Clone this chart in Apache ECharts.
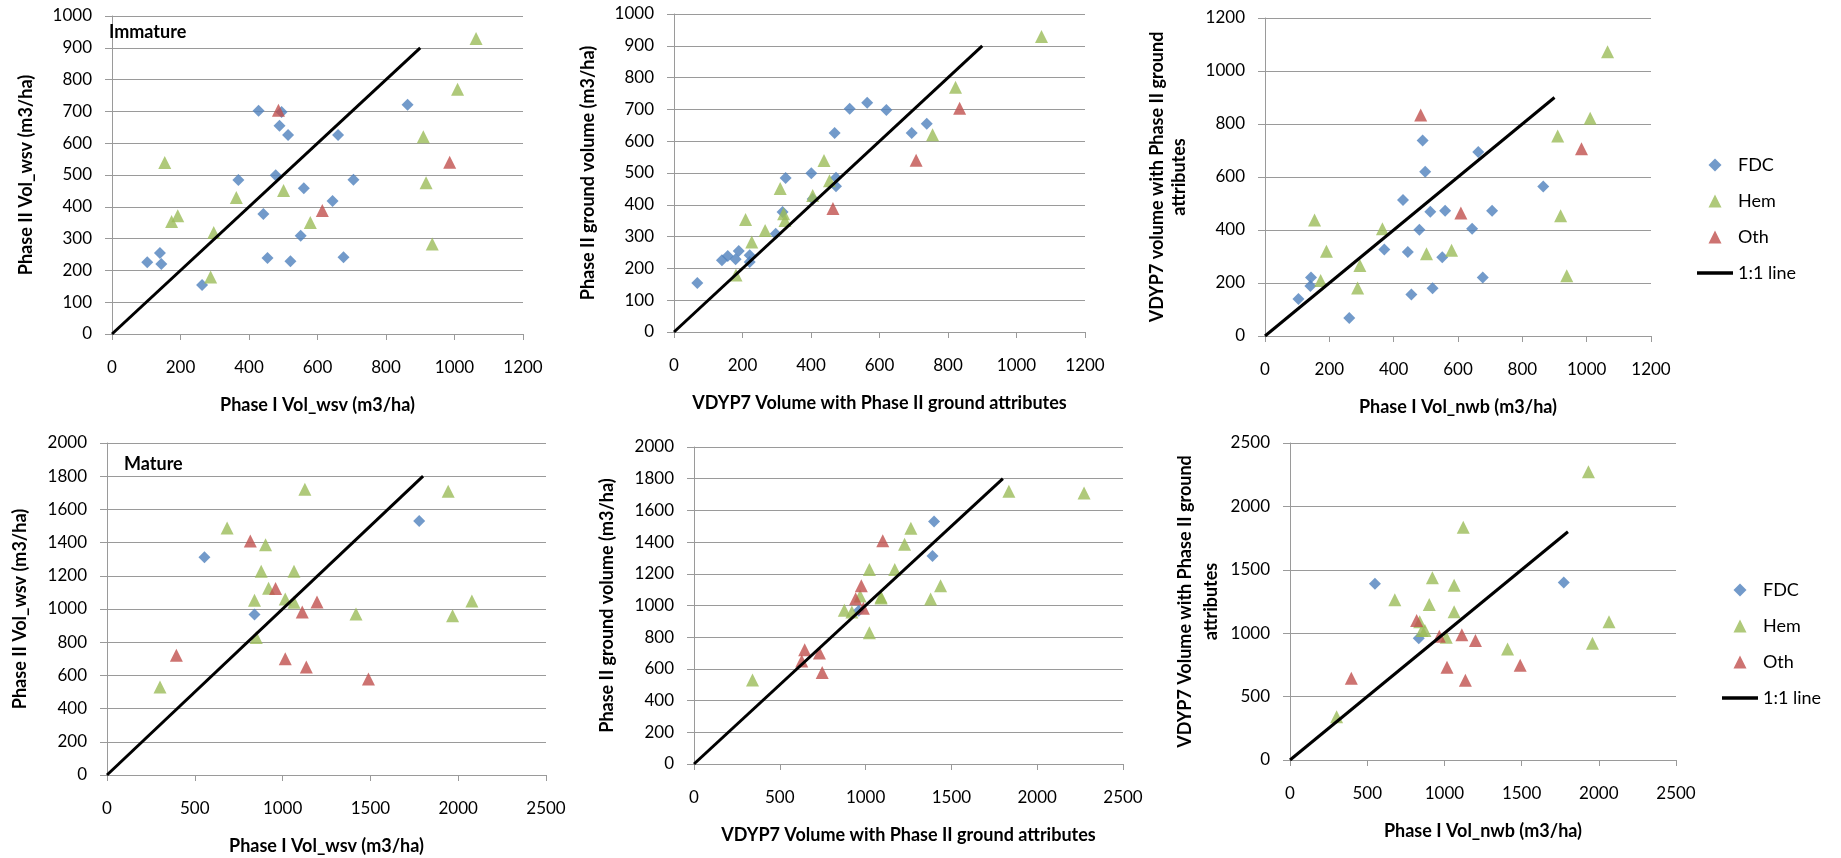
<!DOCTYPE html>
<html>
<head>
<meta charset="utf-8">
<script src="https://cdn.jsdelivr.net/npm/echarts@6/dist/echarts.min.js"></script>
<style>
  html, body { margin: 0; padding: 0; background: #fff; }
  #chart { width: 1841px; height: 858px; }
</style>
</head>
<body>
<div id="chart"></div>
<script>
// ---- immature stands ----
const immFdcWsv = [103, 140, 144, 263, 369, 428, 442, 454, 478, 489, 495, 514, 521, 551, 560, 644, 660, 676, 705, 863];
const immFdcNwb = [104, 141, 143, 262, 371, 429, 444, 455, 480, 490, 498, 514, 521, 551, 560, 644, 663, 677, 706, 865];
const immFdcP2 = [226, 255, 220, 154, 484, 702, 377, 239, 499, 655, 698, 626, 229, 309, 458, 418, 626, 241, 485, 721];
const immFdcVdyp = [140, 189, 221, 68, 326, 513, 317, 157, 401, 738, 620, 469, 180, 297, 473, 405, 694, 221, 473, 564];

const immHemWsv = [1063, 1009, 909, 917, 935, 154, 192, 174, 297, 363, 501, 579, 288];
const immHemNwb = [1065, 1011, 910, 919, 938, 154, 191, 173, 295, 365, 502, 580, 288];
const immHemP2 = [929, 770, 620, 476, 283, 539, 372, 354, 319, 429, 451, 351, 179];
const immHemVdyp = [1073, 822, 755, 454, 227, 438, 320, 209, 266, 405, 310, 324, 181];

const immOthWsv = [486, 614, 986];
const immOthNwb = [484, 609, 984];
const immOthP2 = [704, 388, 540];
const immOthVdyp = [834, 464, 707];

// ---- mature stands ----
const matFdcWsv = [555, 840, 1778];
const matFdcNwb = [550, 834, 1773];
const matFdcP2 = [1312, 967, 1530];
const matFdcVdyp = [1390, 960, 1399];

const matHemWsv = [302, 684, 903, 878, 920, 840, 850, 1015, 1065, 1065, 1127, 1418, 1943, 1968, 2078];
const matHemNwb = [302, 679, 902, 874, 922, 840, 855, 1012, 1063, 1063, 1122, 1409, 1933, 1959, 2066];
const matHemP2 = [530, 1488, 1387, 1227, 1125, 1053, 828, 1060, 1227, 1041, 1721, 970, 1709, 959, 1048];
const matHemVdyp = [341, 1264, 1227, 1022, 1437, 1090, 1022, 968, 1170, 1379, 1835, 876, 2273, 920, 1090];

const matOthWsv = [395, 816, 960, 1112, 1196, 1015, 1135, 1489];
const matOthNwb = [397, 820, 967, 1113, 1201, 1017, 1136, 1491];
const matOthP2 = [721, 1409, 1124, 982, 1042, 700, 650, 578];
const matOthVdyp = [645, 1100, 975, 987, 942, 731, 628, 747];

// 1:1 reference lines
const immLine = [[0, 0], [900, 900]];
const matLine = [[0, 0], [1800, 1800]];

const font = 'Lato';
const gridColor = '#9a9a9a';
const colors = { FDC: '#4F81BD', Hem: '#9BBB59', Oth: '#C0504D' };

// legend icons (small, fixed aspect so they are not stretched)
const iconDiamond = 'path://M6,0L12,6L6,12L0,6Z';
const iconTriangle = 'path://M6.5,0L13,13L0,13Z';
const iconLine = 'path://M0,0H36V3.5H0Z';

function pairs(xs, ys) {
  return xs.map((x, i) => [x, ys[i]]);
}

const grids = [
  { left: 112, top: 16, width: 411, height: 318 },
  { left: 674, top: 14, width: 411, height: 318 },
  { left: 1265, top: 18, width: 386, height: 318 },
  { left: 107, top: 443, width: 439, height: 332 },
  { left: 694, top: 447, width: 429, height: 317 },
  { left: 1290, top: 443, width: 386, height: 317 }
].map(g => Object.assign({ containLabel: false, outerBoundsMode: 'none' }, g));

function xAxis(idx, max, step, name) {
  return {
    type: 'value', gridIndex: idx, min: 0, max: max, interval: step,
    name: name, nameLocation: 'middle', nameGap: 61,
    nameTextStyle: { fontFamily: font, fontSize: 18, fontWeight: 'bold', color: '#000', lineHeight: 20 },
    axisLine: { show: true, onZero: false, lineStyle: { color: gridColor, width: 1 } },
    axisTick: { show: true, inside: false, length: 6, lineStyle: { color: gridColor } },
    axisLabel: { margin: 24, fontFamily: font, fontSize: 17, color: '#000', lineHeight: 20, formatter: v => String(v) },
    splitLine: { show: false }
  };
}

function yAxis(idx, max, step, name, gap, lh) {
  return {
    type: 'value', gridIndex: idx, min: 0, max: max, interval: step,
    name: name, nameLocation: 'middle', nameRotate: 90, nameGap: gap,
    nameTextStyle: { fontFamily: font, fontSize: 18, fontWeight: 'bold', color: '#000', lineHeight: lh },
    axisLine: { show: true, onZero: false, lineStyle: { color: gridColor, width: 1 } },
    axisTick: { show: true, inside: false, length: 7, lineStyle: { color: gridColor } },
    axisLabel: { margin: 20, fontFamily: font, fontSize: 17, color: '#000', formatter: v => String(v) },
    splitLine: { show: true, lineStyle: { color: gridColor, width: 1 } }
  };
}

function panelSeries(idx, fdc, hem, oth, line) {
  const common = { type: 'scatter', xAxisIndex: idx, yAxisIndex: idx };
  return [
    Object.assign({ name: 'FDC', data: fdc, symbol: 'diamond', symbolSize: 12, itemStyle: { color: colors.FDC } }, common),
    Object.assign({ name: 'Hem', data: hem, symbol: 'triangle', symbolSize: 13, itemStyle: { color: colors.Hem } }, common),
    Object.assign({ name: 'Oth', data: oth, symbol: 'triangle', symbolSize: 13, itemStyle: { color: colors.Oth } }, common),
    {
      name: '1:1 line', type: 'line', xAxisIndex: idx, yAxisIndex: idx, data: line,
      symbol: 'none', lineStyle: { color: '#000', width: 3 }, itemStyle: { color: '#000' }
    }
  ];
}

function legendAt(left, top) {
  return {
    orient: 'vertical', left: left, top: top, padding: 0,
    itemWidth: 36, itemHeight: 13, itemGap: 16, selectedMode: false, symbolKeepAspect: true,
    textStyle: { fontFamily: font, fontSize: 18, color: '#000', lineHeight: 20 },
    data: [
      { name: 'FDC', icon: iconDiamond },
      { name: 'Hem', icon: iconTriangle },
      { name: 'Oth', icon: iconTriangle },
      { name: '1:1 line', icon: iconLine }
    ]
  };
}

const option = {
  animation: false,
  backgroundColor: '#fff',
  title: [
    { text: 'Immature', left: 109, top: 23, padding: 0, textStyle: { fontFamily: font, fontSize: 18, fontWeight: 'bold', color: '#000' } },
    { text: 'Mature', left: 124, top: 455, padding: 0, textStyle: { fontFamily: font, fontSize: 18, fontWeight: 'bold', color: '#000' } }
  ],
  legend: [legendAt(1697, 155), legendAt(1722, 580)],
  grid: grids,
  xAxis: [
    xAxis(0, 1200, 200, 'Phase I Vol_wsv (m3/ha)'),
    xAxis(1, 1200, 200, 'VDYP7 Volume with Phase II ground attributes'),
    xAxis(2, 1200, 200, 'Phase I Vol_nwb (m3/ha)'),
    xAxis(3, 2500, 500, 'Phase I Vol_wsv (m3/ha)'),
    xAxis(4, 2500, 500, 'VDYP7 Volume with Phase II ground attributes'),
    xAxis(5, 2500, 500, 'Phase I Vol_nwb (m3/ha)')
  ],
  yAxis: [
    yAxis(0, 1000, 100, 'Phase II Vol_wsv (m3/ha)', 76, 20),
    yAxis(1, 1000, 100, 'Phase II ground volume (m3/ha)', 76, 20),
    yAxis(2, 1200, 200, 'VDYP7 volume with Phase II ground\nattributes', 75, 22),
    yAxis(3, 2000, 200, 'Phase II Vol_wsv (m3/ha)', 77, 20),
    yAxis(4, 2000, 200, 'Phase II ground volume (m3/ha)', 77, 20),
    yAxis(5, 2500, 500, 'VDYP7 Volume with Phase II ground\nattributes', 66, 26)
  ],
  series: [].concat(
    panelSeries(0, pairs(immFdcWsv, immFdcP2), pairs(immHemWsv, immHemP2), pairs(immOthWsv, immOthP2), immLine),
    panelSeries(1, pairs(immFdcVdyp, immFdcP2), pairs(immHemVdyp, immHemP2), pairs(immOthVdyp, immOthP2), immLine),
    panelSeries(2, pairs(immFdcNwb, immFdcVdyp), pairs(immHemNwb, immHemVdyp), pairs(immOthNwb, immOthVdyp), immLine),
    panelSeries(3, pairs(matFdcWsv, matFdcP2), pairs(matHemWsv, matHemP2), pairs(matOthWsv, matOthP2), matLine),
    panelSeries(4, pairs(matFdcVdyp, matFdcP2), pairs(matHemVdyp, matHemP2), pairs(matOthVdyp, matOthP2), matLine),
    panelSeries(5, pairs(matFdcNwb, matFdcVdyp), pairs(matHemNwb, matHemVdyp), pairs(matOthNwb, matOthVdyp), matLine)
  )
};

const chart = echarts.init(document.getElementById('chart'));
chart.setOption(option);
</script>
</body>
</html>
